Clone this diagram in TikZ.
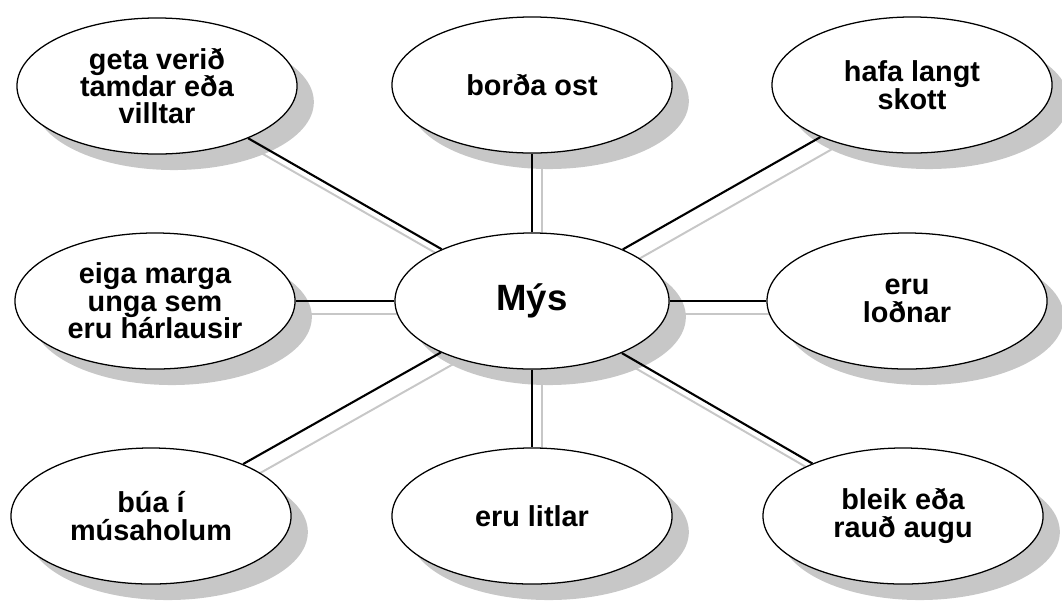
\documentclass[tikz,border=0pt]{standalone}
\usepackage{fontspec}
\setmainfont{Liberation Sans}
\usetikzlibrary{shapes.geometric,shadows}
\pgfdeclarelayer{bg}
\pgfsetlayers{bg,main}
\tikzset{
  bubble/.style={ellipse, draw=black, line width=0.9pt, fill=white,
    minimum width=7cm, minimum height=3.4cm, inner sep=0pt, align=center,
    font=\fontsize{20.5}{19.5}\selectfont\bfseries,
    drop shadow={shadow xshift=0.42cm, shadow yshift=-0.4cm, fill=black!22, opacity=1}},
  link/.style={line width=1.5pt, draw=black},
  shadowlink/.style={line width=1.4pt, draw=black!22}
}
\begin{document}
\begin{tikzpicture}[x=0.025cm, y=-0.025cm]
\useasboundingbox (0,0) rectangle (1062,601);
\node[bubble, minimum width=6.85cm, font=\fontsize{26}{26}\selectfont\bfseries] (c) at (532,301) {Mýs};
\node[bubble] (tl) at (157,86) {geta verið\\tamdar eða\\villtar};
\node[bubble] (tm) at (532,85) {borða ost};
\node[bubble] (tr) at (912,85) {hafa langt\\skott};
\node[bubble] (ml) at (155,301) {eiga marga\\unga sem\\eru hárlausir};
\node[bubble] (mr) at (907,301) {eru\\loðnar};
\node[bubble] (bl) at (151,516) {búa í\\músaholum};
\node[bubble] (bm) at (532,516) {eru litlar};
\node[bubble] (br) at (903,516) {bleik eða\\rauð augu};
\begin{pgfonlayer}{bg}
\foreach \n in {tl,tm,tr,ml,mr,bl,bm,br}
  \draw[shadowlink] ([shift={(10,13)}]c.center) -- ([shift={(10,13)}]\n.center);
\end{pgfonlayer}
\foreach \n in {tl,tm,tr,ml,mr,bl,bm,br}
  \draw[link] (c) -- (\n);
\end{tikzpicture}
\end{document}
